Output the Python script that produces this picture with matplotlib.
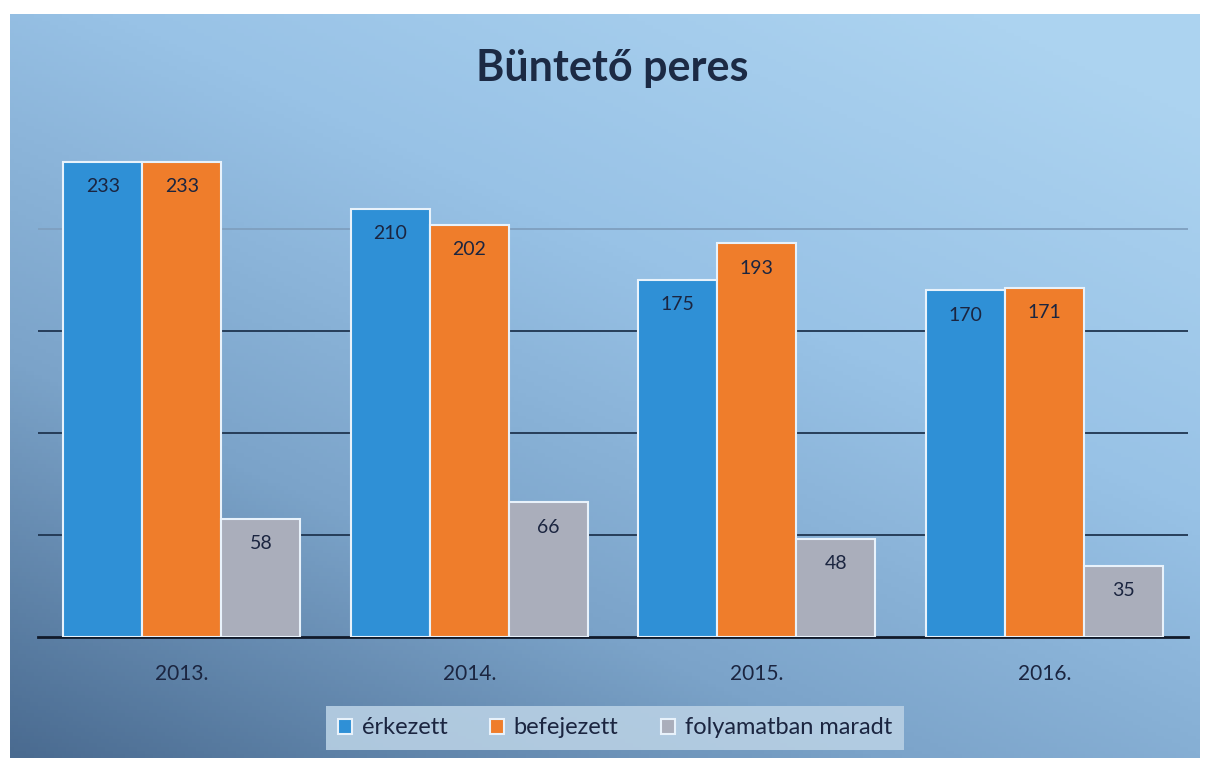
import numpy as np
import matplotlib.pyplot as plt
from matplotlib.colors import LinearSegmentedColormap

years = ['2013.', '2014.', '2015.', '2016.']
erkezett = [233, 210, 175, 170]
befejezett = [233, 202, 193, 171]
folyamatban = [58, 66, 48, 35]
series_names = ['érkezett', 'befejezett', 'folyamatban maradt']
colors = ['#2f90d6', '#ef7d2b', '#aaaebb']

plt.rcParams['font.family'] = ['Lato', 'DejaVu Sans']

fig = plt.figure(figsize=(12.05, 7.62), dpi=100)
fig.patch.set_facecolor('white')

# Gradient background (dark bottom-left to light top-right)
bg = fig.add_axes([10 / 1205, 4 / 762, 1190 / 1205, 744 / 762])
bg.set_axis_off()
yy, xx = np.mgrid[0:1:200j, 0:1:300j]
t = 0.55 * xx + 0.75 * (1 - yy)
cmap = LinearSegmentedColormap.from_list('bg', ['#4a6b90', '#7ba3c9', '#98c2e6', '#acd3f0'])
bg.imshow(t, cmap=cmap, aspect='auto', extent=[0, 1, 0, 1], origin='upper', vmin=0, vmax=1.2)

ax = fig.add_axes([38 / 1205, (762 - 637) / 762, 1150 / 1205, (637 - 127) / 762])
ax.patch.set_alpha(0)

x = np.arange(len(years))
w = 0.275
for i, (vals, c) in enumerate(zip([erkezett, befejezett, folyamatban], colors)):
    bars = ax.bar(x + (i - 1) * w, vals, w, color=c, edgecolor='#e8f2fb',
                  linewidth=1.5, label=series_names[i], zorder=3)
    for b, v in zip(bars, vals):
        ax.text(b.get_x() + b.get_width() / 2, v - 8, str(v), ha='center', va='top',
                fontsize=14, color='#1b2540', zorder=4)

ax.set_xlim(-0.5, 3.5)
ax.set_ylim(0, 250)
ax.set_yticks([50, 100, 150, 200])
ax.yaxis.grid(True, color='#1f3550', linewidth=1.3, zorder=0)
ax.get_ygridlines()[-1].set_color('#7f9fbf')
ax.tick_params(left=False, labelleft=False, bottom=False)
ax.set_xticks(x)
ax.set_xticklabels(years, fontsize=15, color='#1b2540')
ax.tick_params(axis='x', pad=16)
for s in ['top', 'right', 'left']:
    ax.spines[s].set_visible(False)
ax.spines['bottom'].set_color('#111a2a')
ax.spines['bottom'].set_linewidth(2)

fig.text(612 / 1205, 1 - 68 / 762, 'Büntető peres', ha='center', va='center',
         fontsize=31, fontweight='bold', color='#1c2a44')

leg = fig.legend(loc='center', bbox_to_anchor=(615 / 1205, 1 - 728 / 762), ncol=3,
                 fontsize=17, frameon=True, fancybox=False, handlelength=0.6,
                 handleheight=0.6, handletextpad=0.4, columnspacing=1.8,
                 borderpad=0.5, borderaxespad=0)
leg.get_frame().set_facecolor('#b8d0e4')
leg.get_frame().set_edgecolor('none')
leg.get_frame().set_alpha(0.9)
for txt in leg.get_texts():
    txt.set_color('#1b2540')

fig.savefig('out.png', dpi=100)
